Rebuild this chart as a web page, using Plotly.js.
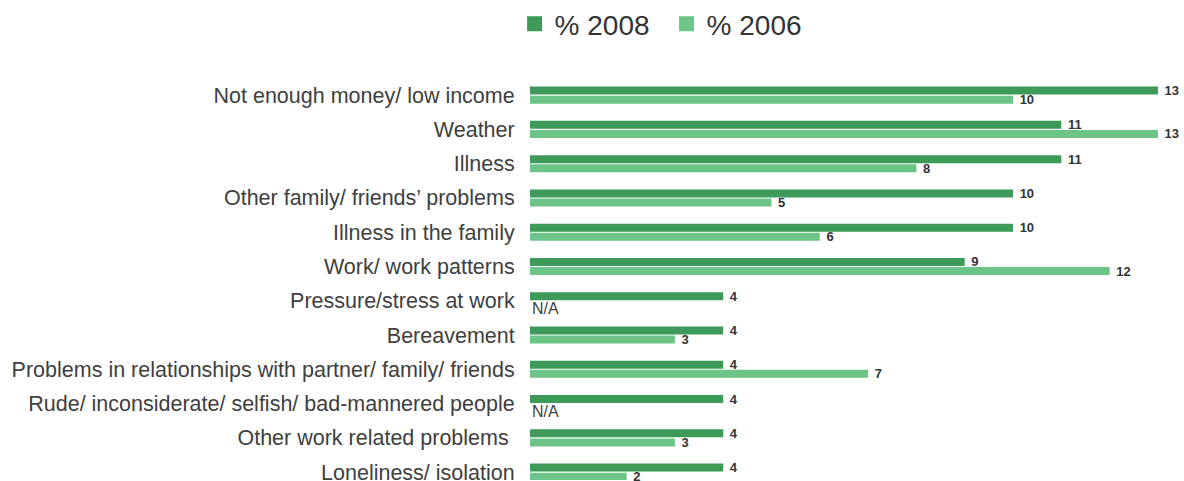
<!DOCTYPE html>
<html><head><meta charset="utf-8">
<script src="https://cdn.plot.ly/plotly-3.0.1.min.js"></script>
<style>html,body{margin:0;padding:0;background:#fff}</style>
</head><body>
<div id="chart" style="width:1184px;height:481px"></div>
<script>
const categories = [
  "Not enough money/ low income",
  "Weather",
  "Illness",
  "Other family/ friends’ problems",
  "Illness in the family",
  "Work/ work patterns",
  "Pressure/stress at work",
  "Bereavement",
  "Problems in relationships with partner/ family/ friends",
  "Rude/ inconsiderate/ selfish/ bad-mannered people",
  "Other work related problems ",
  "Loneliness/ isolation"
];
const values2008 = [13, 11, 11, 10, 10, 9, 4, 4, 4, 4, 4, 4];
const values2006 = [10, 13, 8, 5, 6, 12, null, 3, 7, null, 3, 2];
const seriesNames = ["% 2008", "% 2006"];
const missingLabel = "N/A";

const dark = "#3d9a59", light = "#6cc586";
const FAM = "Liberation Sans, Arial, sans-serif";
const labelFont = {family: FAM, size: 13, color: "#333333", weight: "bold"};

function mkTrace(vals, name, color) {
  return {
    type: "bar", orientation: "h", name: name,
    y: categories, x: vals,
    marker: {color: color},
    text: vals.map(v => v === null ? "" : " " + v),
    textposition: "outside",
    textfont: labelFont,
    constraintext: "none",
    cliponaxis: false,
    showlegend: false,
    hoverinfo: "x+y"
  };
}
function mkLegend(name, color) {
  return {
    type: "scatter", mode: "markers", name: name, x: [null], y: [null],
    marker: {symbol: "square", size: 15, color: color}, showlegend: true
  };
}

const annotations = [];
values2006.forEach((v, i) => {
  if (v === null) annotations.push({
    x: 0, y: categories[i], xref: "x", yref: "y",
    text: missingLabel, showarrow: false, xanchor: "left", xshift: 0, yshift: -8,
    font: {family: FAM, size: 16, color: "#404040"}
  });
});

const layout = {
  width: 1184, height: 481,
  margin: {l: 530, r: 0, t: 78, b: 1},
  paper_bgcolor: "#fff", plot_bgcolor: "#fff",
  barmode: "group", bargap: 0.47, bargroupgap: 0.12,
  font: {family: FAM, color: "#333333"},
  xaxis: {range: [0, 13.54], showgrid: false, zeroline: false, showticklabels: false, showline: false, fixedrange: true},
  yaxis: {
    type: "category", range: [11.23, -0.5], showgrid: false, zeroline: false, showline: false,
    ticks: "outside", ticklen: 10, tickcolor: "rgba(0,0,0,0)",
    tickfont: {family: FAM, size: 21.5, color: "#404040"}
  },
  showlegend: true,
  legend: {
    orientation: "h", xref: "container", yref: "container", x: 0.563, xanchor: "center", y: 0.95, yanchor: "middle",
    font: {family: FAM, size: 28, color: "#333333"},
    traceorder: "normal", itemwidth: 30, entrywidth: 107
  },
  annotations: annotations
};

Plotly.newPlot("chart", [
  mkTrace(values2008, seriesNames[0], dark), mkTrace(values2006, seriesNames[1], light),
  mkLegend(seriesNames[0], dark), mkLegend(seriesNames[1], light)
], layout, {displayModeBar: false, staticPlot: true});
</script>
</body></html>
